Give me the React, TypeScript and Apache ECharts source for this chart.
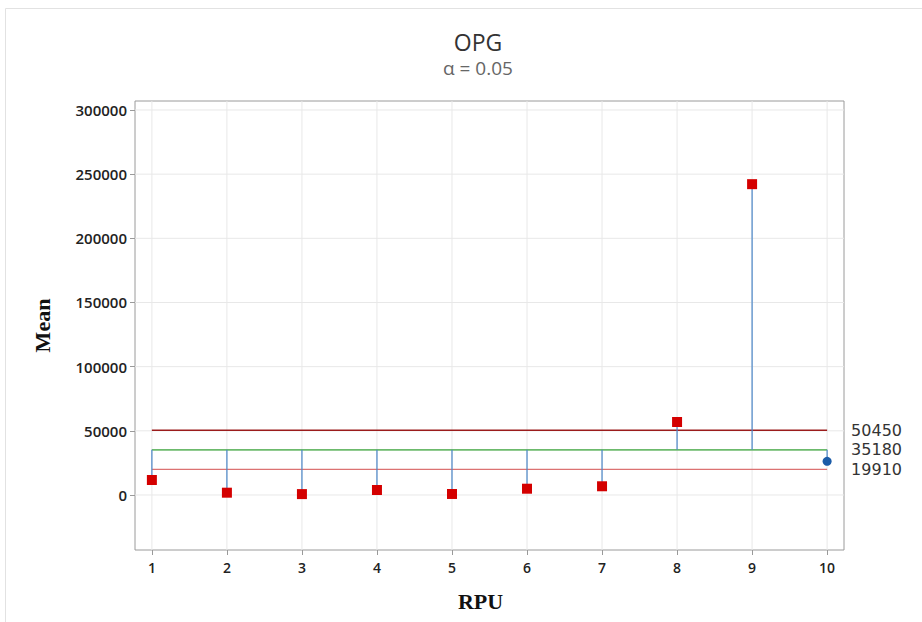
import React, { useEffect, useRef } from "react";
import * as echarts from "echarts";

const categories = [1, 2, 3, 4, 5, 6, 7, 8, 9, 10];
const means = [11700, 1800, 700, 3900, 800, 4900, 6800, 56900, 242200, 26200];
const UDL = 50450;
const CENTER = 35180;
const LDL = 19910;
const yTicks = [0, 50000, 100000, 150000, 200000, 250000, 300000];
const xTicks = [1, 2, 3, 4, 5, 6, 7, 8, 9, 10];

const LBL_FONT = "'Open Sans', 'Noto Sans', sans-serif";

export default function App() {
  const ref = useRef<HTMLDivElement>(null);
  useEffect(() => {
    if (!ref.current) return;
    const chart = echarts.init(ref.current, undefined, { renderer: "svg" });
    const pointData = categories.map((c, i) => {
      const v = means[i];
      const out = v > UDL || v < LDL;
      return {
        value: [c, v],
        symbol: out ? "rect" : "circle",
        symbolSize: out ? 10 : 9,
        itemStyle: out
          ? { color: "#d40000", opacity: 1 }
          : { color: "#1b5ca8", opacity: 1 },
      };
    });
    const hLine = (val: number, color: string, width: number) => ({
      type: "line",
      data: [
        [categories[0], val],
        [categories[categories.length - 1], val],
      ],
      showSymbol: false,
      symbol: "none",
      silent: true,
      lineStyle: { color, width },
      endLabel: {
        show: true,
        distance: 24,
        formatter: () => String(val),
        color: "#333",
        fontSize: 16,
        lineHeight: 16,
        fontFamily: "'DejaVu Sans', sans-serif",
      },
      z: 2,
    });
    const gridData = [
      ...yTicks.map((v) => [0, v]),
      ...xTicks.map((v) => [1, v]),
    ];
    chart.setOption({
      animation: false,
      backgroundColor: "#fff",
      title: {
        text: "OPG",
        subtext: "α = 0.05",
        left: 473,
        textAlign: "center",
        top: 25,
        itemGap: 5,
        textStyle: { fontFamily: LBL_FONT, fontSize: 23, fontWeight: 500, color: "#333" },
        subtextStyle: { fontFamily: LBL_FONT, fontSize: 19, color: "#666" },
      },
      graphic: [
        {
          type: "rect",
          shape: { x: 5.5, y: 8.5, width: 1000, height: 700 },
          style: { fill: "none", stroke: "#e2e2e2", lineWidth: 1 },
          silent: true,
          z: -10,
        },
      ],
      grid: {
        left: 135,
        right: 78,
        top: 101,
        bottom: 72,
        show: true,
        borderColor: "#9a9a9a",
        borderWidth: 1,
        containLabel: false,
      },
      xAxis: {
        type: "value",
        min: 0.775,
        max: 10.225,
        name: "RPU",
        nameLocation: "middle",
        nameGap: 40,
        nameTextStyle: {
          fontFamily: "'Liberation Serif', 'DejaVu Serif', serif",
          fontWeight: "bold",
          fontSize: 22,
          color: "#111",
          padding: [0, 18, 0, 0],
        },
        axisLine: { show: false, onZero: false },
        axisTick: { show: true, customValues: xTicks, length: 5, lineStyle: { color: "#9a9a9a" } },
        axisLabel: {
          customValues: xTicks,
          margin: 10,
          fontFamily: LBL_FONT,
          fontSize: 14,
          fontWeight: 600,
          color: "#222",
          formatter: (v: number) => String(v),
        },
        splitLine: { show: false },
      },
      yAxis: {
        type: "value",
        min: -42857,
        max: 307000,
        name: "Mean",
        nameLocation: "middle",
        nameGap: 82,
        nameTextStyle: {
          fontFamily: "'Liberation Serif', 'DejaVu Serif', serif",
          fontWeight: "bold",
          fontSize: 22,
          color: "#111",
        },
        axisLine: { show: false, onZero: false },
        axisTick: { show: true, customValues: yTicks, length: 5, lineStyle: { color: "#9a9a9a" } },
        axisLabel: {
          customValues: yTicks,
          margin: 8,
          fontFamily: LBL_FONT,
          fontSize: 15,
          fontWeight: 600,
          color: "#222",
          formatter: (v: number) => String(v),
        },
        splitLine: { show: false },
      },
      series: [
        {
          type: "custom",
          data: gridData,
          silent: true,
          z: 0,
          clip: true,
          renderItem: (params: any, api: any) => {
            const kind = api.value(0);
            const v = api.value(1);
            const cs = params.coordSys;
            if (kind === 0) {
              const y = api.coord([1, v])[1];
              return {
                type: "line",
                shape: { x1: cs.x, y1: y, x2: cs.x + cs.width, y2: y },
                style: { stroke: "#e8e8e8", lineWidth: 1 },
              };
            }
            const x = api.coord([v, 0])[0];
            return {
              type: "line",
              shape: { x1: x, y1: cs.y, x2: x, y2: cs.y + cs.height },
              style: { stroke: "#e8e8e8", lineWidth: 1 },
            };
          },
        },
        hLine(UDL, "#9b1c1c", 1.3),
        hLine(CENTER, "#6cba6c", 1.6),
        hLine(LDL, "#dc7272", 1.2),
        {
          type: "custom",
          data: categories.map((c, i) => [c, means[i]]),
          silent: true,
          z: 3,
          renderItem: (params: any, api: any) => {
            const x = api.value(0);
            const v = api.value(1);
            const p1 = api.coord([x, CENTER]);
            const p2 = api.coord([x, v]);
            return {
              type: "line",
              shape: { x1: p1[0], y1: p1[1], x2: p2[0], y2: p2[1] },
              style: { stroke: "#4a86c8", lineWidth: 1.2 },
            };
          },
        },
        {
          type: "scatter",
          data: pointData,
          z: 10,
        },
      ],
    });
    return () => chart.dispose();
  }, []);
  return (
    <div
      ref={ref}
      style={{ position: "fixed", left: 0, top: 0, width: 922, height: 622 }}
    />
  );
}
